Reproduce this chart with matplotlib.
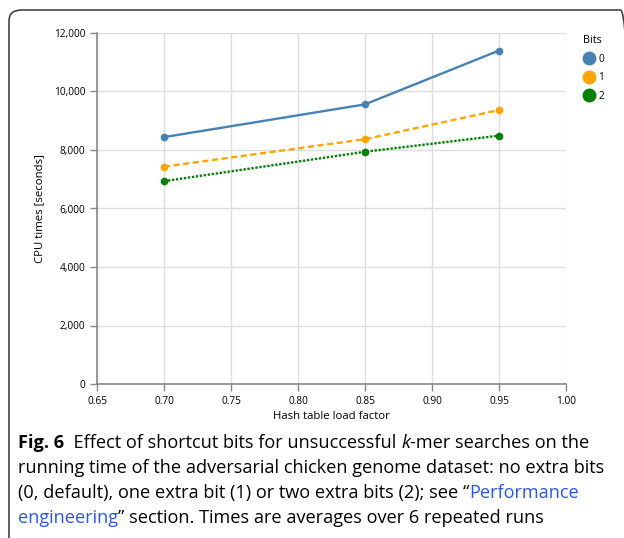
import matplotlib
matplotlib.use("Agg")
import matplotlib.pyplot as plt
from matplotlib.patches import FancyBboxPatch
from matplotlib.lines import Line2D
from matplotlib.ticker import FuncFormatter

load_factor = [0.70, 0.85, 0.95]
bits_labels = ["0", "1", "2"]
cpu_bits0 = [8440, 9560, 11400]
cpu_bits1 = [7430, 8370, 9365]
cpu_bits2 = [6935, 7940, 8490]
series = [cpu_bits0, cpu_bits1, cpu_bits2]
colors = ["#4682b4", "#ffa500", "#008000"]
styles = ["-", (0, (2.6, 1.5)), (0, (1.0, 0.7))]
x_ticks = [0.65, 0.70, 0.75, 0.80, 0.85, 0.90, 0.95, 1.00]
y_ticks = [0, 2000, 4000, 6000, 8000, 10000, 12000]

plt.rcParams['font.family'] = ['Open Sans', 'DejaVu Sans']
fig = plt.figure(figsize=(6.24, 5.38), dpi=100)
W, H = 624, 538

# border
border = FancyBboxPatch((9 / W, -0.05), 1.0, 1 - 10 / H + 0.05,
                        boxstyle="round,pad=0,rounding_size=0.02",
                        transform=fig.transFigure, fill=False,
                        edgecolor="#444444", linewidth=1.2, clip_on=False)
fig.patches.append(border)

ax = fig.add_axes([97 / W, 154 / H, 469 / W, 351 / H])
for s, c, ls, lab in zip(series, colors, styles, bits_labels):
    ax.plot(load_factor, s, color=c, linestyle=ls, linewidth=1.7,
            marker="o", markersize=4.5, label=lab)
ax.set_xlim(0.65, 1.0)
ax.set_ylim(0, 12000)
ax.set_xticks(x_ticks)
ax.set_yticks(y_ticks)
ax.xaxis.set_major_formatter(FuncFormatter(lambda v, p: f"{v:.2f}"))
ax.yaxis.set_major_formatter(FuncFormatter(lambda v, p: f"{int(v):,}"))
ax.grid(True, color="#dddddd", linewidth=1)
ax.set_axisbelow(True)
for side in ["top", "right"]:
    ax.spines[side].set_visible(False)
for side in ["left", "bottom"]:
    ax.spines[side].set_color("#888888")
    ax.spines[side].set_linewidth(1.2)
ax.tick_params(colors="#888888", labelcolor="black", labelsize=7.3, length=5, width=1)
ax.set_xlabel("Hash table load factor", fontsize=8.2, labelpad=3)
ax.set_ylabel("CPU times [seconds]", fontsize=8.2, labelpad=6)

handles = [Line2D([], [], color=c, marker="o", linestyle="none", markersize=9) for c in colors]
leg = fig.legend(handles, bits_labels, title="Bits", loc="upper left",
                 bbox_to_anchor=(574 / W, 1 - 26 / H), frameon=False,
                 fontsize=7.3, title_fontsize=7.8, handletextpad=0.3,
                 handlelength=1.2, labelspacing=0.75, alignment="left")

# caption with mixed styles
fig.canvas.draw()
renderer = fig.canvas.get_renderer()
fs = 13.1
lines = [
    [("Fig. 6", dict(weight="bold")), ("  Effect of shortcut bits for unsuccessful ", {}),
     ("k", dict(style="italic")), ("-mer searches on the", {})],
    [("running time of the adversarial chicken genome dataset: no extra bits", {})],
    [("(0, default), one extra bit (1) or two extra bits (2); see \u201c", {}),
     ("Performance", dict(color="#2a55e5"))],
    [("engineering", dict(color="#2a55e5")), ("\u201d section. Times are averages over 6 repeated runs", {})],
]
y0 = 538 - 443
for i, parts in enumerate(lines):
    x = 18
    y = y0 - i * 25
    for txt, kw in parts:
        t = fig.text(x / W, y / H, txt, fontsize=fs, va="center", ha="left", **kw)
        bb = t.get_window_extent(renderer)
        x = bb.x1

fig.savefig("out.png", dpi=100)
